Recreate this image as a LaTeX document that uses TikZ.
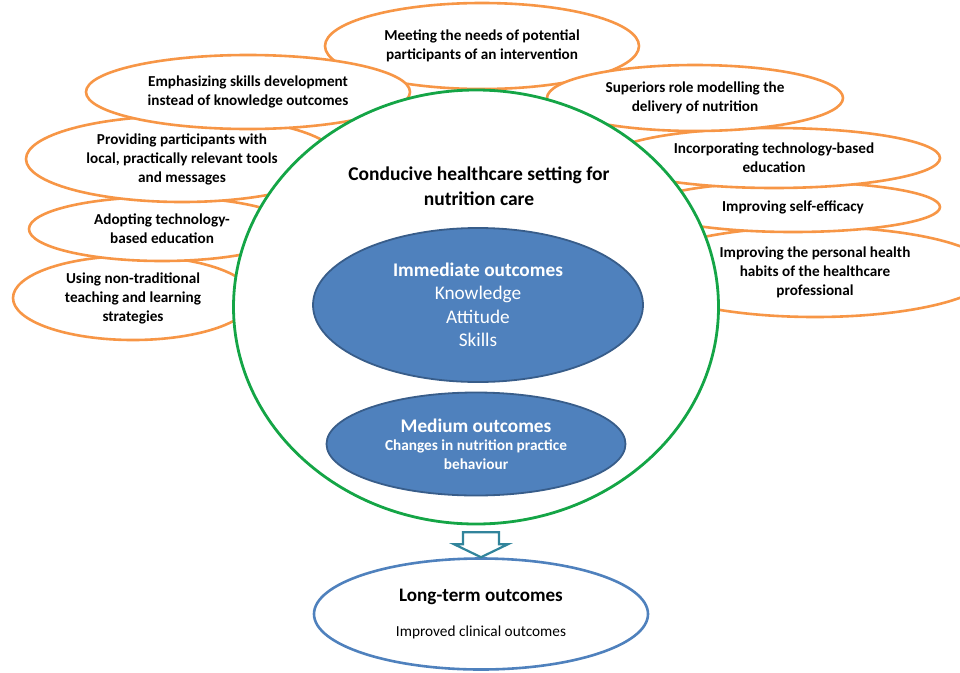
\documentclass[tikz,border=0pt]{standalone}
\usepackage{fontspec}
\setmainfont{Carlito}
\usepackage{tikz}
\usetikzlibrary{positioning, shapes.geometric, calc}
\usepackage{xcolor}
\definecolor{ms-orange}{RGB}{247,150,70}
\definecolor{ms-green}{RGB}{20,165,70}
\definecolor{ms-blue}{RGB}{79,129,189}
\definecolor{ms-blueline}{RGB}{56,93,138}
\definecolor{ms-teal}{RGB}{49,132,155}

\begin{document}
\begin{tikzpicture}[x=1pt, y=-1pt,
		factor/.style={ellipse, draw=ms-orange, fill=white, line width=2.6pt, inner sep=0pt, align=center, font=\fontsize{15.2}{19}\selectfont\bfseries},
		outcome/.style={ellipse, draw=ms-blueline, fill=ms-blue, line width=1.8pt, inner sep=0pt, align=center, text=white},
		blockarrow/.style={draw=ms-teal, fill=white, line width=2.2pt, line join=miter}]
					\useasboundingbox (0,0) rectangle (960,672);
					
					\node[factor, minimum width=314, minimum height=86] at (482,46) (meet) {Meeting the needs of potential\\participants of an intervention};
					
					\node[factor, minimum width=240, minimum height=84] at (133,298) (nontrad) {Using non-traditional\\teaching and learning\\strategies};
					\node[factor, minimum width=266, minimum height=64] at (162,229) (adopt) {Adopting technology-\\based education};
					\node[factor, minimum width=312, minimum height=86] at (182,159) (prov) {Providing participants with\\local, practically relevant tools\\and messages};
					\node[factor, minimum width=324, minimum height=74] at (248,92) (emph) {Emphasizing skills development\\instead of knowledge outcomes};
					
					\node[factor, minimum width=354, minimum height=90] at (815,272) (habits) {Improving the personal health\\habits of the healthcare\\professional};
					\node[factor, minimum width=294, minimum height=50] at (793,207) (selfeff) {Improving self-efficacy};
					\node[factor, minimum width=332, minimum height=60] at (774,158) (incorp) {Incorporating technology-based\\education};
					\node[factor, minimum width=296, minimum height=66] at (695,98) (superior) {Superiors role modelling the\\delivery of nutrition};
					
					\node[ellipse, draw=ms-green, fill=white, line width=2.8pt, minimum width=485, minimum height=434] at (476,307) (setting) {};
					\node[align=center, font=\fontsize{19.5}{25}\selectfont\bfseries] at (479,186) (settitle) {Conducive healthcare setting for\\nutrition care};
					
					\node[outcome, minimum width=330, minimum height=154, font=\fontsize{19.3}{23.5}\selectfont] at (478,305) (immed) {\textbf{Immediate outcomes}\\Knowledge\\Attitude\\Skills};
					\node[outcome, minimum width=299, minimum height=103, font=\fontsize{15.3}{18.5}\selectfont\bfseries] at (476,444) (medium) {{\fontsize{19.3}{20}\selectfont Medium outcomes}\\Changes in nutrition practice\\behaviour};
					
					\node[ellipse, draw=ms-blue, fill=white, line width=2.6pt, minimum width=334, minimum height=111, inner sep=0pt, align=center] at (481,614) (longterm) {{\fontsize{19.1}{20}\selectfont\bfseries Long-term outcomes}\\[21pt]{\fontsize{15.3}{17}\selectfont Improved clinical outcomes}};
					
					\draw[blockarrow] (longterm.north) -- ++(-27,-13) -- ++(9,0) -- ++(0,-12) -- ++(36,0) -- ++(0,12) -- ++(9,0) -- cycle;
\end{tikzpicture}
\end{document}
